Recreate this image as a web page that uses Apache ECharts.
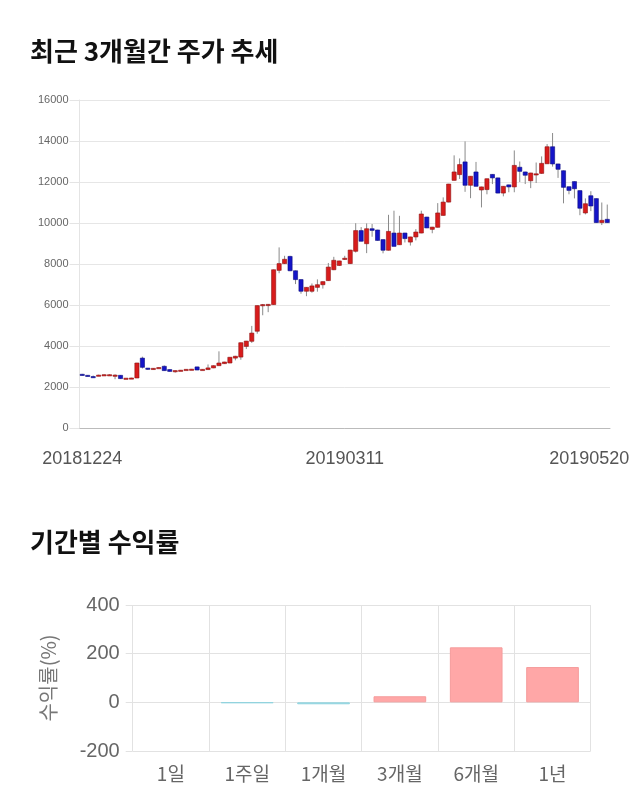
<!DOCTYPE html>
<html><head><meta charset="utf-8">
<script src="https://cdn.jsdelivr.net/npm/echarts@6/dist/echarts.min.js"></script>
<style>html,body{margin:0;padding:0;background:#fff;}#c{width:640px;height:810px;}</style>
</head><body><div id="c"></div>
<script>
const dates = ['20181224','20181226','20181227','20181228',
'20190102','20190103','20190104','20190107','20190108','20190109','20190110','20190111','20190114','20190115','20190116','20190117','20190118','20190121','20190122','20190123','20190124','20190125','20190128','20190129','20190130','20190131',
'20190201','20190207','20190208','20190211','20190212','20190213','20190214','20190215','20190218','20190219','20190220','20190221','20190222','20190225','20190226','20190227','20190228',
'20190304','20190305','20190306','20190307','20190308','20190311','20190312','20190313','20190314','20190315','20190318','20190319','20190320','20190321','20190322','20190325','20190326','20190327','20190328','20190329',
'20190401','20190402','20190403','20190404','20190405','20190408','20190409','20190410','20190411','20190412','20190415','20190416','20190417','20190418','20190419','20190422','20190423','20190424','20190425','20190426','20190429','20190430',
'20190502','20190503','20190507','20190508','20190509','20190510','20190513','20190514','20190515','20190516','20190517','20190520'];
const opens = [2620,2570,2510,2540,2600,2600,2580,2570,2420,2440,2440,3410,2920,2890,2930,3010,2850,2800,2810,2840,2850,2980,2850,2850,2930,3040,3140,3170,3410,3460,3980,4230,4720,5990,6000,6020,7690,8020,8370,7670,7240,6670,6670,6860,6990,7190,7720,7930,8260,8020,8620,9630,8990,9720,9660,9190,8670,9510,8940,9510,9070,9320,9510,10290,9690,9790,10370,11020,12080,12360,12980,11840,12490,11610,11630,12370,12200,11460,11860,11760,12720,12490,12060,12380,12420,12890,13720,12880,12550,11770,12020,11580,10490,11330,11190,10020,10180];
const closes = [2580,2540,2500,2580,2600,2600,2580,2410,2430,2440,3170,2960,2900,2910,2950,2800,2760,2800,2820,2860,2870,2830,2860,2930,3040,3170,3220,3450,3500,4160,4240,4630,5970,6020,6030,7720,8020,8230,7670,7240,6670,6860,6930,6990,7140,7850,8180,8150,8280,8680,9630,9110,9720,9640,9150,8670,9590,8860,9510,9240,9320,9560,10440,9760,9800,10490,11020,11900,12490,12850,11840,12280,11790,11760,12160,12200,11460,11790,11760,12810,12520,12330,12440,12400,12910,13720,12880,12620,11740,11590,11670,10720,10940,10830,10020,10130,10020];
const lows = [2560,2520,2450,2530,2580,2580,2380,2400,2410,2430,2430,2900,2830,2860,2920,2790,2750,2700,2790,2830,2840,2820,2840,2840,2920,3030,3130,3160,3300,3330,3850,4150,4600,5500,5650,6010,7550,8000,7650,7020,6550,6430,6600,6650,6800,7180,7700,7900,8200,8000,8560,9100,8530,9330,9140,8520,8660,8850,8930,9050,8900,9150,9500,9750,9500,9780,10360,11010,12070,12150,11520,11210,11780,10760,11400,11900,11450,11300,11500,11500,12000,11900,11700,11950,12400,12880,12750,12200,10960,11400,11200,10380,10420,10580,10010,9900,10000];
const highs = [2640,2580,2560,2600,2620,2620,2620,2580,2440,2450,3180,3480,2930,2920,2960,3050,2860,2810,2830,2870,2880,2990,2870,3100,3050,3740,3230,3460,3520,4170,4250,4980,5980,6050,6050,7730,8810,8400,8400,7680,7250,6870,7050,7250,7150,8050,8350,8160,8400,8690,9990,9800,9980,9950,9670,9200,10400,10600,10350,9520,9330,9700,10600,10300,9810,10970,11250,11910,13300,13150,13980,12290,12980,11770,12170,12380,12210,11800,11870,13540,13000,12500,12450,12950,13250,13850,14390,12890,12560,11780,12030,11590,11200,11550,11200,11000,10900];
const priceTicks = [0,2000,4000,6000,8000,10000,12000,14000,16000];
const dateLabelIdx = [0,48,96];

const periods = ['1일','1주일','1개월','3개월','6개월','1년'];
const returns = [0,-3,-8,25,226,145];

const chart = echarts.init(document.getElementById('c'), null, {renderer:'canvas'});
const candleData = dates.map((d,i)=>[i, opens[i], closes[i], lows[i], highs[i]]);

function renderCandle(params, api){
  const i = api.value(0), o = api.value(1), c = api.value(2), l = api.value(3), h = api.value(4);
  const po = api.coord([i,o]), pc = api.coord([i,c]), pl = api.coord([i,l]), ph = api.coord([i,h]);
  const w = api.size([1,0])[0]*0.76;
  const up = c >= o;
  const top = Math.min(po[1], pc[1]);
  const hgt = Math.max(Math.abs(po[1]-pc[1]), 1.2);
  const x = po[0];
  return {type:'group', children:[
    {type:'line', shape:{x1:x,y1:ph[1],x2:x,y2:pl[1]}, style:{stroke:'#8a8a8a', lineWidth:1}},
    {type:'rect', shape:{x:x-w/2, y:top, width:w, height:hgt},
     style:{fill: up ? '#d81c1c' : '#1414c8', stroke: up ? '#8e1010' : '#0c0c80', lineWidth:0.6}}
  ]};
}

const option = {
  animation:false,
  backgroundColor:'#fff',
  title:[
    {text:'최근 3개월간 주가 추세', left:25, top:33, textStyle:{fontFamily:'Noto Sans CJK KR', fontWeight:'bold', fontSize:26, color:'#111'}},
    {text:'기간별 수익률', left:25, top:524, textStyle:{fontFamily:'Noto Sans CJK KR', fontWeight:'bold', fontSize:26, color:'#111'}}
  ],
  grid:[
    {left:79.5, right:30, top:100, bottom:382, containLabel:false},
    {left:132.7, right:49.3, top:605, bottom:59, containLabel:false}
  ],
  xAxis:[
    {type:'category', gridIndex:0, data:dates, boundaryGap:true,
     axisLine:{show:true, lineStyle:{color:'#bbbbbb'}}, axisTick:{show:false},
     axisLabel:{interval:(i)=>dateLabelIdx.includes(i), margin:22, fontSize:18, color:'#555', fontFamily:'Liberation Sans, Arial',
       formatter:(v,i)=> i===96 ? '{r|'+v+'}' : v,
       rich:{r:{padding:[0,36,0,0], fontSize:18, color:'#555', fontFamily:'Liberation Sans, Arial'}}},
     splitLine:{show:false}},
    {type:'category', gridIndex:1, data:periods, boundaryGap:true,
     axisLine:{show:false}, axisTick:{show:true, length:6, lineStyle:{color:'#e2e2e2'}},
     axisLabel:{margin:13, fontSize:19, color:'#666', fontFamily:'Noto Sans CJK KR'},
     splitLine:{show:true, lineStyle:{color:'#e2e2e2'}}}
  ],
  yAxis:[
    {type:'value', gridIndex:0, min:0, max:16000, interval:2000,
     axisLine:{show:true, lineStyle:{color:'#e4e4e4'}},
     axisTick:{show:true, length:10, lineStyle:{color:'#e4e4e4'}},
     axisLabel:{margin:11, fontSize:11, color:'#666', fontFamily:'Liberation Sans, Arial', formatter:(v)=>String(v)},
     splitLine:{show:true, lineStyle:{color:'#e6e6e6'}}},
    {type:'value', gridIndex:1, min:-200, max:400, interval:200,
     name:'수익률(%)', nameLocation:'middle', nameGap:74, nameRotate:90,
     nameTextStyle:{fontSize:20, color:'#777', fontFamily:'Noto Sans CJK KR'},
     axisLine:{show:false}, axisTick:{show:true, length:7, lineStyle:{color:'#e2e2e2'}},
     axisLabel:{margin:13, fontSize:20, color:'#666', fontFamily:'Liberation Sans, Arial', formatter:(v)=>String(v)},
     splitLine:{show:true, lineStyle:{color:'#e2e2e2'}}}
  ],
  series:[
    {type:'custom', xAxisIndex:0, yAxisIndex:0, renderItem:renderCandle, data:candleData,
     encode:{x:0, y:[1,2,3,4]}, clip:true},
    {type:'bar', xAxisIndex:1, yAxisIndex:1, barWidth:'69%',
     data: returns.map(v=>({value:v, itemStyle:{color: v>=0 ? '#ffa7a7' : '#a9e3ec', borderColor: v>=0 ? '#f59c9c' : '#8fd3de', borderWidth: v===0 ? 0 : 1}}))}
  ]
};
chart.setOption(option);
</script></body></html>
